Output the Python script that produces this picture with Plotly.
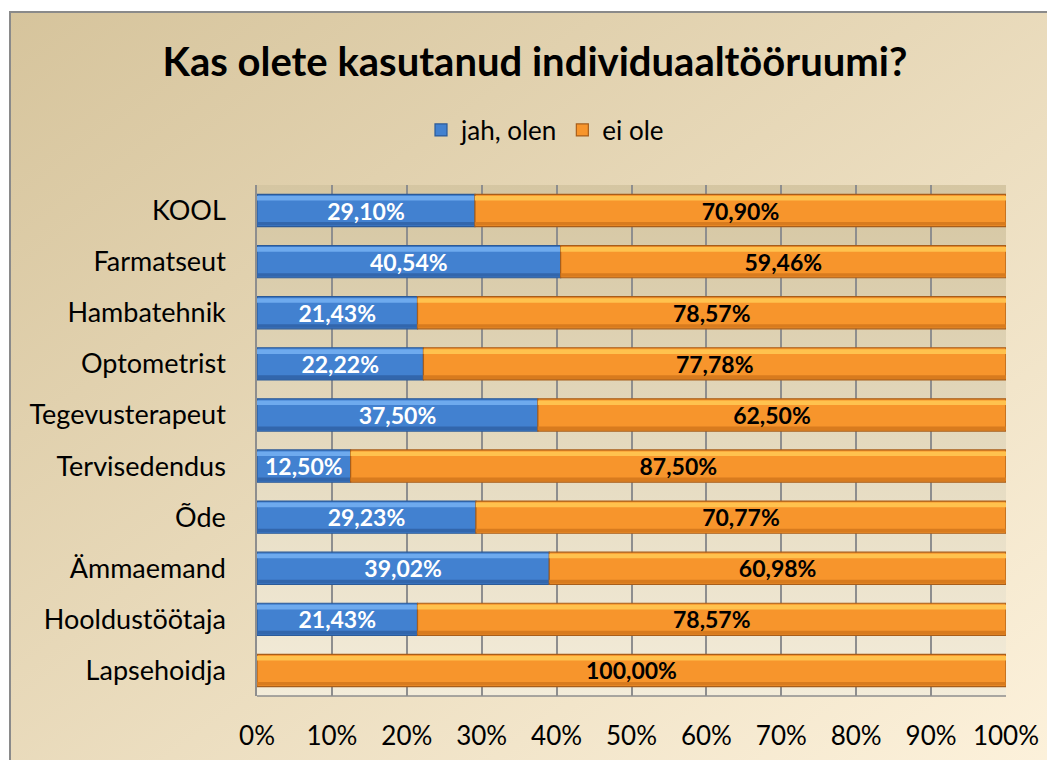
import base64
import plotly.graph_objects as go

categories = ["KOOL", "Farmatseut", "Hambatehnik", "Optometrist", "Tegevusterapeut",
              "Tervisedendus", "Õde", "Ämmaemand", "Hooldustöötaja", "Lapsehoidja"]
jah_olen = [29.10, 40.54, 21.43, 22.22, 37.50, 12.50, 29.23, 39.02, 21.43, 0.00]
ei_ole = [70.90, 59.46, 78.57, 77.78, 62.50, 87.50, 70.77, 60.98, 78.57, 100.00]
x_ticks = [0, 10, 20, 30, 40, 50, 60, 70, 80, 90, 100]
x_tick_labels = ["0%", "10%", "20%", "30%", "40%", "50%", "60%", "70%", "80%", "90%", "100%"]

FONT = "Lato"
BAR_W = 0.63


def svg_uri(c1, c2, x2, y2):
    svg = ('<svg xmlns="http://www.w3.org/2000/svg" width="100" height="100" '
           'preserveAspectRatio="none"><defs><linearGradient id="g" x1="0" y1="0" '
           f'x2="{x2}" y2="{y2}"><stop offset="0" stop-color="{c1}"/>'
           f'<stop offset="1" stop-color="{c2}"/></linearGradient></defs>'
           '<rect width="100" height="100" fill="url(#g)"/></svg>')
    return "data:image/svg+xml;base64," + base64.b64encode(svg.encode()).decode()


def labels(vals):
    return [("" if v == 0 else f"{v:.2f}".replace(".", ",") + "%") for v in vals]


series = [
    dict(name="jah, olen", vals=jah_olen, base=[0] * len(jah_olen),
         body="#4281D0", edge="#2B5A98", light="#6EAAEE", dark="#3266AC", txt="white"),
    dict(name="ei ole", vals=ei_ole, base=jah_olen,
         body="#F7952C", edge="#A85E1A", light="#FFC24E", dark="#D87B1E", txt="black"),
]

fig = go.Figure()
for s in series:
    fig.add_trace(go.Bar(
        y=categories, x=s["vals"], base=s["base"], name=s["name"], orientation="h",
        width=BAR_W, marker=dict(color=s["body"], line=dict(color=s["edge"], width=1.2)),
        hoverinfo="skip",
    ))
    # top highlight band
    fig.add_trace(go.Bar(
        y=categories, x=s["vals"], base=s["base"], orientation="h", showlegend=False,
        width=0.09, offset=-0.285, marker=dict(color=s["light"], line=dict(width=0)),
        hoverinfo="skip",
    ))
    # bottom shade band
    fig.add_trace(go.Bar(
        y=categories, x=s["vals"], base=s["base"], orientation="h", showlegend=False,
        width=0.07, offset=0.225, marker=dict(color=s["dark"], line=dict(width=0)),
        hoverinfo="skip",
    ))
for s in series:
    fig.add_trace(go.Bar(
        y=categories, x=s["vals"], base=s["base"], orientation="h", showlegend=False,
        width=BAR_W, marker=dict(color="rgba(0,0,0,0)", line=dict(width=0)),
        text=labels(s["vals"]), textposition="inside", insidetextanchor="middle",
        constraintext="none", cliponaxis=False,
        textfont=dict(family=FONT, size=23, color=s["txt"], weight="bold"),
        hovertemplate="%{y}: %{text}<extra></extra>",
    ))

# page offset of 8px (body margin) taken into account
L, R, T, B = 257, 1006, 185, 696
OFF = 8
pw, ph = R - L, B - T
fx0, fx1 = (10 - L) / pw, (1070 - L) / pw
fy1, fy0 = (B - 12) / ph, (B - 775) / ph

fig.update_layout(
    width=1055, height=760,
    margin=dict(l=L - OFF, r=1055 + OFF - R, t=T - OFF, b=760 + OFF - B, autoexpand=False),
    barmode="overlay",
    paper_bgcolor="white", plot_bgcolor="rgba(0,0,0,0)",
    font=dict(family=FONT, size=26, color="black"),
    title=dict(text="<b>Kas olete kasutanud individuaaltööruumi?</b>",
               font=dict(family=FONT, size=40, color="black"),
               x=(535 - OFF) / 1055, xanchor="center", xref="container",
               y=1 - (62 - OFF) / 760, yanchor="middle", yref="container"),
    legend=dict(orientation="h", x=(545 - L) / pw, xanchor="center",
                y=(B - 130) / ph, yanchor="middle",
                font=dict(family=FONT, size=26), bgcolor="rgba(0,0,0,0)",
                traceorder="normal"),
    xaxis=dict(range=[0, 100], tickvals=x_ticks, ticktext=x_tick_labels, showgrid=True,
               gridcolor="#8E8E8E", gridwidth=1.5, zeroline=False, showline=False,
               ticklabelstandoff=22, tickfont=dict(family=FONT, size=26),
               fixedrange=True),
    yaxis=dict(autorange="reversed", showline=True, linecolor="#8E8E8E", linewidth=1.5,
               ticklabelstandoff=24, tickfont=dict(family=FONT, size=27),
               showgrid=False, fixedrange=True),
    images=[
        dict(source=svg_uri("#D6C49C", "#FDF2DC", 1, 1), xref="paper", yref="paper",
             x=fx0, y=fy1, sizex=fx1 - fx0, sizey=fy1 - fy0, sizing="stretch",
             xanchor="left", yanchor="top", layer="below"),
        dict(source=svg_uri("#D5C6A2", "#F3ECDA", 0, 1), xref="paper", yref="paper",
             x=0, y=1, sizex=1, sizey=1, sizing="stretch",
             xanchor="left", yanchor="top", layer="below"),
    ],
    shapes=[
        dict(type="rect", xref="paper", yref="paper", x0=fx0, x1=fx1, y0=fy0, y1=fy1,
             line=dict(color="#8A8A8A", width=2), fillcolor="rgba(0,0,0,0)", layer="below"),
        dict(type="line", xref="paper", yref="paper", x0=0, x1=1, y0=0, y1=0,
             line=dict(color="#8E8E8E", width=1.5), layer="above"),
    ],
)

fig.write_html("out.html")
